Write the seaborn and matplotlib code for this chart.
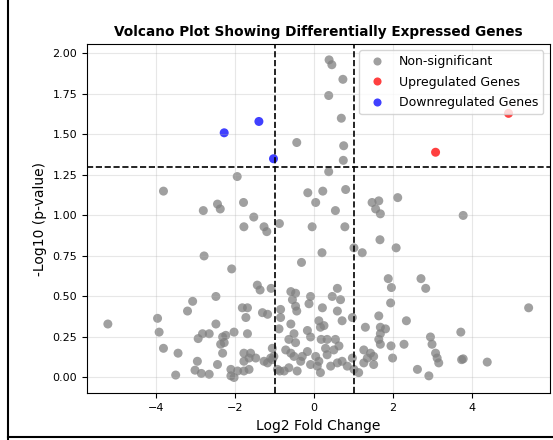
import matplotlib

matplotlib.use("Agg")
import matplotlib.pyplot as plt
import numpy as np
import pandas as pd
import seaborn as sns
from matplotlib.lines import Line2D

# values
gray_fc = [
    0.38, 0.45, 0.73, 0.37, 0.69, -0.44, 0.75, 0.74, 0.37,
    -1.95, -3.82, -0.16, 0.22, 0.80, 0.04, -2.45, -2.38, -2.81, -1.79,
    1.47, 1.64, 1.56, 1.68, 2.12, 0.54, -1.53, -1.78, -1.27, -1.20, -0.88, -0.05, 0.78, 3.78,
    1.67, 2.08, 1.01, 1.22, 0.20, -2.79, -0.32,
    -2.09, 1.88, 1.96, 2.71, 2.83, -1.44, -1.37, -1.09,
    -0.59, -0.47, -0.55, -0.47, -0.44, -0.09, -0.13,
    -2.49, -3.08, -3.21, -1.82, -1.69, -1.73, -1.31, -1.18, -0.85, -0.85,
    0.59, 0.46, 0.67, 0.59, 0.21, 1.94, 5.44,
    -3.97, -5.23, -2.49, -0.59, 0.97, 0.71, 1.64, 2.34,
    -3.93, -2.94, -2.83, -2.66, -2.32, -2.24, -2.28, -2.37, -1.69, -2.03, -0.89,
    -0.64, -0.51, -0.47, -0.17, -0.09, 0.12, 0.16, 0.18, 0.25,
    1.30, 1.68, 1.81, 1.68, 1.64, 1.68, 3.72, 2.95, 2.99, 3.08, 3.12, 3.16,
    0.33, 0.54, 0.63, 0.50, 0.29, 0.33, 1.95, 2.28,
    1.26, 1.43, 1.51, 1.35, 0.97, 1.99, 0.59, 0.71, 0.42, 1.01, 1.13, 1.26, 1.51, 2.62,
    3.74, 3.78, 4.39, 2.91, 0.84,
    -3.82, -3.45, -2.32, -2.96, -2.45, -3.02, -2.86, -2.66, -3.51, -2.11, -2.11, -2.03, -1.94,
    -1.78, -1.65, -1.78, -1.48, -1.27, -1.10, -1.06, -1.61, -1.65, -1.78,
    -0.72, -0.59, -0.51, -0.30, -0.34, -0.17, 0.04, 0.12, -0.09, 0.08,
    -0.93, -0.76, -0.64, -0.43, 0.16, -0.87, -1.18, -1.06, -1.02,
]
gray_logp = [
    1.96, 1.93, 1.84, 1.74, 1.60, 1.45, 1.43, 1.34, 1.27,
    1.24, 1.15, 1.14, 1.15, 1.16, 1.08, 1.07, 1.04, 1.03, 1.08,
    1.08, 1.09, 1.04, 1.01, 1.11, 1.03, 0.99, 0.93, 0.93, 0.90, 0.95, 0.93, 0.93, 1.00,
    0.85, 0.80, 0.80, 0.77, 0.77, 0.75, 0.71,
    0.67, 0.61, 0.555, 0.61, 0.55, 0.57, 0.54, 0.55,
    0.53, 0.52, 0.48, 0.44, 0.41, 0.50, 0.455,
    0.50, 0.47, 0.41, 0.43, 0.43, 0.37, 0.40, 0.39, 0.42, 0.37,
    0.55, 0.50, 0.48, 0.41, 0.43, 0.46, 0.43,
    0.365, 0.33, 0.33, 0.33, 0.37, 0.35, 0.38, 0.35,
    0.28, 0.24, 0.27, 0.27, 0.25, 0.26, 0.215, 0.205, 0.27, 0.28, 0.30,
    0.235, 0.27, 0.215, 0.29, 0.25, 0.35, 0.31, 0.235, 0.32,
    0.31, 0.31, 0.30, 0.27, 0.235, 0.205, 0.28, 0.25, 0.205, 0.15, 0.12, 0.09,
    0.235, 0.235, 0.195, 0.17, 0.18, 0.14, 0.195, 0.205,
    0.17, 0.15, 0.13, 0.12, 0.12, 0.12, 0.09, 0.10, 0.07, 0.05, 0.03, 0.09, 0.08, 0.05,
    0.11, 0.115, 0.095, 0.01, 0.07,
    0.18, 0.15, 0.15, 0.10, 0.08, 0.045, 0.025, 0.02, 0.015, 0.05, 0.01, 0.00, 0.04,
    0.15, 0.12, 0.10, 0.12, 0.10, 0.12, 0.18, 0.15, 0.05, 0.04,
    0.17, 0.15, 0.13, 0.13, 0.10, 0.16, 0.13, 0.10, 0.08, 0.07,
    0.05, 0.04, 0.06, 0.04, 0.03, 0.04, 0.09, 0.11, 0.13,
]
up_fc = [4.93, 3.08]
up_logp = [1.63, 1.39]
down_fc = [-2.28, -1.40, -1.03]
down_logp = [1.51, 1.58, 1.35]

labels = ["Non-significant", "Upregulated Genes", "Downregulated Genes"]
colors = {"Non-significant": "grey", "Upregulated Genes": "red", "Downregulated Genes": "blue"}

df = pd.DataFrame({
    "log2fc": gray_fc + up_fc + down_fc,
    "neglogp": gray_logp + up_logp + down_logp,
    "status": [labels[0]] * len(gray_fc) + [labels[1]] * len(up_fc) + [labels[2]] * len(down_fc),
})

fig, ax = plt.subplots(figsize=(5.53, 4.40), dpi=100)
fig.subplots_adjust(left=0.157, right=0.994, bottom=0.106, top=0.9)

sns.scatterplot(
    data=df,
    x="log2fc",
    y="neglogp",
    hue="status",
    hue_order=labels,
    palette=colors,
    alpha=0.75,
    s=42,
    linewidth=0,
    ax=ax,
)

ax.axhline(-np.log10(0.05), color="black", linestyle="--", linewidth=1.2)
ax.axvline(-1, color="black", linestyle="--", linewidth=1.2)
ax.axvline(1, color="black", linestyle="--", linewidth=1.2)

ax.set_title("Volcano Plot Showing Differentially Expressed Genes", fontsize=9.8, fontweight="bold")
ax.set_xlabel("Log2 Fold Change", fontsize=10)
ax.set_ylabel("-Log10 (p-value)", fontsize=10)
ax.tick_params(labelsize=8)
ax.grid(visible=True, alpha=0.3)
ax.legend(loc="upper right", fontsize=9, markerscale=0.9, labelspacing=0.6)

# frame edges of the screenshot
fig.add_artist(Line2D([0.015, 0.015], [0.0, 1.0], color="black", linewidth=1.5))
fig.add_artist(Line2D([0.015, 1.0], [0.006, 0.006], color="black", linewidth=1.5))

fig.savefig("out.png", dpi=100)
